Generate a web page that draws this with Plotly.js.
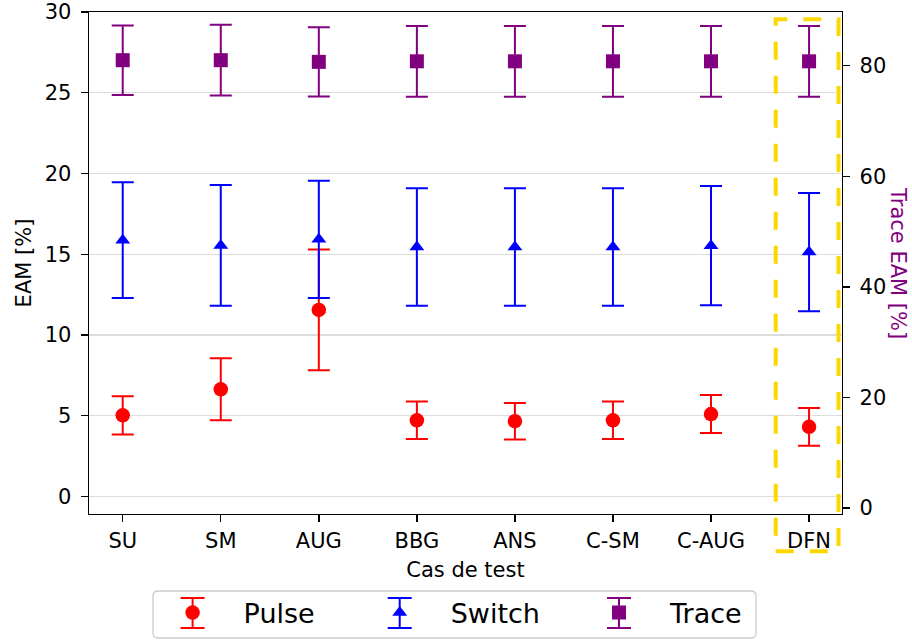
<!DOCTYPE html>
<html><head><meta charset="utf-8">
<script src="https://cdn.plot.ly/plotly-3.0.1.min.js"></script>
<style>body{margin:0;background:#fff;} #chart{width:912px;height:640px;}</style>
</head><body><div id="chart"></div>
<script>
// ---- data ----
const categories = ['SU', 'SM', 'AUG', 'BBG', 'ANS', 'C-SM', 'C-AUG', 'DFN'];
const pulseMean  = [5.02, 6.63, 11.55, 4.71, 4.66, 4.71, 5.10, 4.31];
const pulseErr   = [1.18, 1.92, 3.74, 1.16, 1.13, 1.16, 1.18, 1.17];
const switchMean = [15.87, 15.54, 15.92, 15.44, 15.44, 15.44, 15.53, 15.13];
const switchErr  = [3.58, 3.74, 3.63, 3.64, 3.64, 3.64, 3.69, 3.66];
const traceMean  = [81.0, 81.0, 80.7, 80.8, 80.8, 80.8, 80.8, 80.8];
const traceErr   = [6.3, 6.4, 6.25, 6.4, 6.4, 6.4, 6.4, 6.4];
const leftTicks  = [0, 5, 10, 15, 20, 25, 30];
const rightTicks = [0, 20, 40, 60, 80];

// ---- layout geometry (pixels) ----
const W = 912, H = 640;
const M = {l: 89, r: 70, t: 12, b: 126, autoexpand: false};
const PW = W - M.l - M.r, PH = H - M.t - M.b;
const px2x = p => (p - M.l) / PW;
const px2y = p => (H - M.b - p) / PH;

const FONT = 'DejaVu Sans, sans-serif';
const TICKSZ = 21;
const LEGSZ = 27;
const ITEMW = 92;                    // legend symbol area width
const LEGY = 613;                    // legend row centre (px)
const legendMarkerX = [192.6, 399.7, 619];   // legend symbol centres (px)
const seriesColors = ['#ff0000', '#0000ff', '#800080'];

function errTrace(name, y, err, color, symbol, size, yaxis, legendId) {
  return {
    type: 'scatter', mode: 'markers', name: name,
    x: categories, y: y, yaxis: yaxis, legend: legendId,
    marker: {color: color, symbol: symbol, size: size, line: {width: 0}},
    error_y: {type: 'data', array: err, visible: true, color: color, thickness: 2, width: 11},
    cliponaxis: false
  };
}

const data = [
  errTrace('Pulse', pulseMean, pulseErr, seriesColors[0], 'circle', 14.5, 'y', 'legend'),
  errTrace('Switch', switchMean, switchErr, seriesColors[1], 'triangle-up', 13, 'y', 'legend2'),
  errTrace('Trace', traceMean, traceErr, seriesColors[2], 'square', 14, 'y2', 'legend3')
];

// rounded legend box path in paper coords
function roundRect(x0, y0, x1, y1, r) {
  const rx = r / PW, ry = r / PH;
  const X0 = px2x(x0), X1 = px2x(x1), Y0 = px2y(y0), Y1 = px2y(y1);
  return `M ${X0 + rx},${Y0} L ${X1 - rx},${Y0} Q ${X1},${Y0} ${X1},${Y0 - ry} ` +
         `L ${X1},${Y1 + ry} Q ${X1},${Y1} ${X1 - rx},${Y1} L ${X0 + rx},${Y1} ` +
         `Q ${X0},${Y1} ${X0},${Y1 + ry} L ${X0},${Y0 - ry} Q ${X0},${Y0} ${X0 + rx},${Y0} Z`;
}

const shapes = [
  // legend frame
  {type: 'path', xref: 'paper', yref: 'paper', path: roundRect(153, 591, 756, 638, 5),
   line: {color: '#cccccc', width: 1.3}, fillcolor: 'rgba(255,255,255,0.8)', layer: 'below'},
  // highlight box around DFN
  {type: 'rect', xref: 'paper', yref: 'paper',
   x0: px2x(775.7), x1: px2x(838.5), y0: px2y(551.3), y1: px2y(19.3),
   line: {color: '#FFD700', width: 4, dash: '18px,16px'}, layer: 'above'}
];
// error-bar glyphs for the legend keys
legendMarkerX.forEach((mx, i) => {
  const c = seriesColors[i];
  const top = LEGY - 15, bot = LEGY + 15, hw = 12;
  shapes.push({type: 'line', xref: 'paper', yref: 'paper', x0: px2x(mx), x1: px2x(mx),
               y0: px2y(top), y1: px2y(bot), line: {color: c, width: 2}, layer: 'above'});
  shapes.push({type: 'line', xref: 'paper', yref: 'paper', x0: px2x(mx - hw), x1: px2x(mx + hw),
               y0: px2y(top), y1: px2y(top), line: {color: c, width: 2}, layer: 'above'});
  shapes.push({type: 'line', xref: 'paper', yref: 'paper', x0: px2x(mx - hw), x1: px2x(mx + hw),
               y0: px2y(bot), y1: px2y(bot), line: {color: c, width: 2}, layer: 'above'});
});

function legendAt(mx) {
  return {
    orientation: 'h', x: px2x(mx - (ITEMW + 10) / 2), y: px2y(LEGY),
    xanchor: 'left', yanchor: 'middle',
    font: {family: FONT, size: LEGSZ, color: '#000000'},
    bgcolor: 'rgba(0,0,0,0)', borderwidth: 0, itemwidth: ITEMW
  };
}

const axisCommon = {
  showline: true, linecolor: '#000000', linewidth: 1.4,
  ticks: 'outside', ticklen: 7, tickwidth: 1.4, tickcolor: '#000000',
  tickfont: {size: TICKSZ, color: '#000000'}, zeroline: false
};

const layout = {
  width: W, height: H,
  margin: M,
  paper_bgcolor: '#ffffff', plot_bgcolor: '#ffffff',
  font: {family: FONT, color: '#000000', size: TICKSZ},
  showlegend: true,
  legend: legendAt(legendMarkerX[0]),
  legend2: legendAt(legendMarkerX[1]),
  legend3: legendAt(legendMarkerX[2]),
  xaxis: Object.assign({}, axisCommon, {
    type: 'category', range: [-0.344, 7.336], mirror: true, showgrid: false,
    title: {text: 'Cas de test', font: {size: TICKSZ}, standoff: 10}
  }),
  yaxis: Object.assign({}, axisCommon, {
    range: [-1.09, 30], tickvals: leftTicks, ticktext: leftTicks.map(String),
    ticklabelstandoff: 5,
    showgrid: true, gridcolor: '#dcdcdc', gridwidth: 1.3,
    title: {text: 'EAM [%]', font: {size: TICKSZ}, standoff: 7}
  }),
  yaxis2: Object.assign({}, axisCommon, {
    overlaying: 'y', side: 'right', anchor: 'x',
    range: [-1.09, 89.72], tickvals: rightTicks, ticktext: rightTicks.map(String),
    ticklabelstandoff: 5,
    showgrid: false
  }),
  annotations: [
    {text: 'Trace EAM [%]', xref: 'paper', yref: 'paper', x: px2x(898), y: 0.5,
     xanchor: 'center', yanchor: 'middle', textangle: 90, showarrow: false,
     font: {family: FONT, size: TICKSZ, color: '#800080'}}
  ],
  shapes: shapes
};

Plotly.newPlot('chart', data, layout, {displayModeBar: false, staticPlot: true});
</script>
</body></html>
